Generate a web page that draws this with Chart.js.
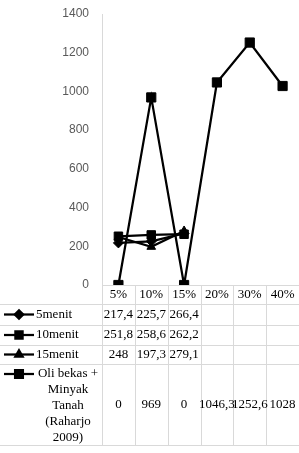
<!DOCTYPE html>
<html>
<head>
<meta charset="utf-8">
<script src="https://cdn.jsdelivr.net/npm/chart.js@4"></script>
<style>
body{margin:0;background:#fff;overflow:hidden}
#wrap{width:299px;height:453px;position:relative}
</style>
</head>
<body>
<div id="wrap"><canvas id="chart"></canvas></div>
<script>

/* ---------------- DATA ---------------- */

const categories = ["5%","10%","15%","20%","30%","40%"]
const menit5 = [217.4,225.7,266.4,null,null,null]
const menit10 = [251.8,258.6,262.2,null,null,null]
const menit15 = [248,197.3,279.1,null,null,null]
const oliBekas = [0,969,0,1046.3,1252.6,1028]

const seriesNames = ["5menit","10menit","15menit",["Oli bekas +","Minyak","Tanah","(Raharjo","2009)"]]
const yTicks = [0,200,400,600,800,1000,1200,1400]

const fmt = v => v === null ? "" : String(v).replace(".",",")

/* ---------------- DATA TABLE PLUGIN ---------------- */

const dataTable = {
id:"dataTable",
afterDraw(chart){
const ctx = chart.ctx
const x = chart.scales.x
const top = chart.chartArea.bottom
const left = chart.chartArea.left
const right = chart.chartArea.right
const step = x.getPixelForValue(1) - x.getPixelForValue(0)
// row borders: header ends, then each series row
const rows = [top+19, top+40, top+60, top+79, top+160]

ctx.save()
ctx.strokeStyle = "#d9d9d9"
ctx.lineWidth = 1
rows.forEach(y=>{
ctx.beginPath()
ctx.moveTo(0,Math.round(y)+0.5)
ctx.lineTo(right,Math.round(y)+0.5)
ctx.stroke()
})
for(let i=0;i<=categories.length;i++){
const bx = Math.round(left + i*step)+0.5
ctx.beginPath()
ctx.moveTo(bx,top)
ctx.lineTo(bx,rows[rows.length-1])
ctx.stroke()
}

ctx.fillStyle = "#000"
ctx.font = "13px 'Liberation Serif'"
ctx.textBaseline = "middle"

// header row: category labels
ctx.textAlign = "center"
categories.forEach((c,i)=>ctx.fillText(c,x.getPixelForValue(i),top+10))

chart.data.datasets.forEach((ds,di)=>{
const y0 = rows[di], y1 = rows[di+1]
const name = seriesNames[di]
const lines = Array.isArray(name) ? name : [name]
const keyY = lines.length > 1 ? y0 + 10 : (y0+y1)/2

// legend key
ctx.strokeStyle = "#000"
ctx.lineWidth = 2.25
ctx.beginPath()
ctx.moveTo(4,keyY)
ctx.lineTo(34,keyY)
ctx.stroke()
Chart.helpers.drawPoint(ctx,{pointStyle:ds.pointStyle,radius:ds.pointRadius*0.85,rotation:0,borderWidth:1},19,keyY)

// series label
if(lines.length > 1){
ctx.textAlign = "center"
lines.forEach((t,li)=>ctx.fillText(t,68,y0+10+li*16))
}else{
ctx.textAlign = "left"
ctx.fillText(lines[0],36,keyY)
}

// values
ctx.textAlign = "center"
ds.data.forEach((v,i)=>{
ctx.fillText(fmt(v),x.getPixelForValue(i),(y0+y1)/2)
})
})
ctx.restore()
}
}

/* ---------------- CHART ---------------- */

const mk = (label,data,style,r) => ({
label:label,
data:data,
borderColor:"#000",
backgroundColor:"#000",
borderWidth:2.25,
pointStyle:style,
pointRadius:r,
pointHoverRadius:r,
pointBackgroundColor:"#000",
pointBorderColor:"#000",
pointBorderWidth:1,
spanGaps:false,
tension:0
})

new Chart(document.getElementById("chart"),{
type:"line",
data:{
labels:categories,
datasets:[
mk("5menit",menit5,"rectRot",5),
mk("10menit",menit10,"rect",6),
mk("15menit",menit15,"triangle",5),
mk("Oli bekas + Minyak Tanah (Raharjo 2009)",oliBekas,"rect",6.5)
]
},
options:{
responsive:true,
maintainAspectRatio:false,
animation:false,
layout:{autoPadding:false,padding:{top:14,right:0,bottom:149,left:0}},
plugins:{legend:{display:false},tooltip:{enabled:false}},
scales:{
x:{
offset:true,
grid:{display:false},
border:{display:true,color:"#d9d9d9",width:1},
ticks:{display:false},
afterFit(s){s.height = 19}
},
y:{
min:0,
max:1400,
grid:{display:false},
border:{display:true,color:"#d9d9d9",width:1},
afterBuildTicks(s){s.ticks = yTicks.map(v=>({value:v}))},
ticks:{color:"#595959",font:{family:"Liberation Sans",size:12},padding:5,callback:v=>String(v)},
afterFit(s){s.width = 102; s.paddingTop = 0; s.paddingBottom = 0}
}
}
},
plugins:[dataTable]
})

</script>
</body>
</html>
